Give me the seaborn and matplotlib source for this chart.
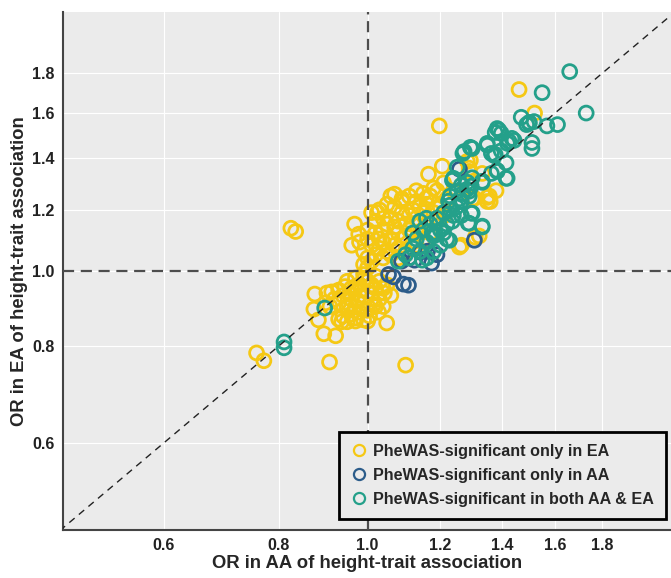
import pandas as pd
import seaborn as sns
import matplotlib.pyplot as plt
from matplotlib.lines import Line2D
from matplotlib.ticker import NullLocator

# OR in AA (x) and OR in EA (y)
ea_only_aa = [1.462, 1.52, 1.197, 1.206, 1.165, 1.294, 1.29, 1.35, 1.36, 1.30, 1.259, 1.31, 1.19,
              1.07, 1.09, 1.025, 0.968, 0.961, 0.978, 0.825, 0.835, 0.757, 0.771, 0.909, 1.10,
              0.896, 0.923, 0.876, 0.903, 0.914, 0.884, 0.93, 0.937, 0.874, 0.97, 1.0, 1.049,
              1.028, 1.043, 1.284, 1.29, 1.333, 1.307, 1.357, 1.38, 1.35, 1.159, 1.212, 1.265,
              1.323, 1.189,
              0.95, 0.97, 0.99, 0.96, 0.98, 1.0, 0.94, 0.96, 0.98, 1.0, 1.02, 0.95, 0.97, 0.99,
              1.01, 0.93, 0.96, 0.98, 1.0, 1.02, 0.94, 0.97, 0.99, 1.03, 1.04, 1.05, 1.03, 1.06,
              1.02, 0.97, 0.985, 0.955, 0.945, 1.01, 0.99, 0.975, 0.955, 1.015, 0.93, 0.92, 0.91,
              0.90, 0.95, 1.005, 1.04,
              1.0, 1.01, 1.02, 1.0, 0.99, 1.01, 1.03, 1.04, 1.05, 1.03, 1.0, 0.98, 1.02, 1.04,
              1.06, 1.07, 1.05, 1.07, 1.08, 1.09, 1.06, 1.08, 1.10, 1.11, 1.09, 1.11, 1.12, 1.13,
              1.14, 1.15, 1.13, 1.16, 1.17, 1.15, 1.12, 1.10, 1.08, 1.06, 1.04, 1.02, 1.0, 0.99,
              1.01, 1.03, 1.05, 1.07, 1.09, 1.11, 1.13, 1.06, 1.04, 1.12, 1.14, 1.16, 1.18, 1.19,
              1.17, 1.15, 1.20, 1.22, 1.18, 1.21, 1.24, 1.10, 1.08, 1.13]
ea_only_ea = [1.716, 1.60, 1.54, 1.366, 1.334, 1.39, 1.345, 1.245, 1.23, 1.24, 1.074, 1.106, 1.27,
              1.257, 1.24, 1.19, 1.15, 1.08, 1.116, 1.136, 1.125, 0.784, 0.766, 0.763, 0.756,
              0.83, 0.825, 0.934, 0.937, 0.94, 0.865, 0.867, 0.86, 0.893, 0.862, 0.862, 0.857,
              0.885, 0.937, 1.386, 1.358, 1.337, 1.242, 1.25, 1.27, 1.23, 1.242, 1.18, 1.08,
              1.11, 1.206,
              0.97, 0.98, 0.99, 0.95, 0.96, 0.97, 0.93, 0.92, 0.93, 0.94, 0.95, 0.90, 0.90, 0.91,
              0.92, 0.91, 0.88, 0.885, 0.89, 0.90, 0.875, 0.87, 0.865, 0.92, 0.95, 0.96, 0.97,
              0.93, 0.985, 0.955, 0.945, 0.935, 0.955, 0.96, 0.975, 0.915, 0.905, 0.905, 0.945,
              0.92, 0.90, 0.91, 0.86, 0.875, 0.90,
              1.01, 1.03, 1.05, 1.04, 1.06, 1.08, 1.07, 1.04, 1.06, 1.10, 1.10, 1.09, 1.12, 1.13,
              1.10, 1.08, 1.15, 1.14, 1.12, 1.10, 1.17, 1.16, 1.15, 1.13, 1.19, 1.18, 1.20, 1.17,
              1.21, 1.19, 1.23, 1.22, 1.25, 1.26, 1.15, 1.11, 1.07, 1.05, 1.09, 1.16, 1.13, 1.02,
              1.19, 1.20, 1.22, 1.21, 1.23, 1.25, 1.27, 1.25, 1.17, 1.09, 1.12, 1.15, 1.19, 1.16,
              1.12, 1.10, 1.21, 1.24, 1.28, 1.30, 1.27, 1.06, 1.04, 1.08]

both_aa = [1.66, 1.549, 1.73, 1.47, 1.50, 1.49, 1.568, 1.61, 1.51, 1.51, 1.377, 1.39, 1.436, 1.42,
           1.415, 1.415, 1.384, 1.35, 1.364, 1.377, 1.294, 1.27, 1.333, 1.252, 1.24, 1.284, 1.284,
           1.30, 1.333, 1.287, 1.265, 1.225, 1.22, 1.185, 0.811, 0.811,
           1.499, 1.518, 1.384, 1.398, 1.35, 1.374, 1.398, 1.426, 1.444, 1.30, 1.274, 1.384,
           1.419, 1.364, 1.333, 1.297, 1.265, 1.237, 1.252, 1.29, 1.265, 1.29, 1.228, 1.297,
           1.333, 1.29, 1.237, 1.228, 1.159, 1.176, 1.147,
           1.10, 1.12, 1.14, 1.16, 1.18, 1.20, 1.13, 1.15, 1.17, 1.19, 1.21, 1.23, 1.08, 1.11,
           1.22, 1.25, 1.26, 1.24, 1.20, 1.18, 1.16, 1.21, 1.12, 1.14, 1.27, 1.30, 1.23, 0.898]
both_ea = [1.81, 1.70, 1.60, 1.58, 1.556, 1.546, 1.54, 1.546, 1.466, 1.44, 1.51, 1.52, 1.484, 1.462,
           1.38, 1.318, 1.345, 1.454, 1.419, 1.415, 1.445, 1.419, 1.302, 1.362, 1.318, 1.302, 1.276,
           1.188, 1.14, 1.153, 1.18, 1.231, 1.10, 1.116, 0.81, 0.796,
           1.552, 1.56, 1.528, 1.506, 1.462, 1.41, 1.43, 1.47, 1.475, 1.44, 1.427, 1.349,
           1.318, 1.337, 1.306, 1.287, 1.291, 1.31, 1.268, 1.268, 1.23, 1.249, 1.216, 1.188,
           1.143, 1.153, 1.16, 1.096, 1.17, 1.12, 1.033,
           1.05, 1.07, 1.06, 1.09, 1.11, 1.13, 1.10, 1.13, 1.15, 1.17, 1.19, 1.20, 1.03, 1.04,
           1.15, 1.21, 1.24, 1.18, 1.08, 1.06, 1.04, 1.12, 1.12, 1.16, 1.26, 1.32, 1.25, 0.896]

aa_only_aa = [1.054, 1.067, 1.094, 1.108, 1.174, 1.307, 1.259, 1.089, 1.125, 1.142, 1.162,
              1.11, 1.19]
aa_only_ea = [0.99, 0.983, 0.962, 0.959, 1.024, 1.096, 1.354, 1.03, 1.033, 1.058, 1.061,
              1.04, 1.05]

groups = ['PheWAS-significant only in EA', 'PheWAS-significant only in AA',
          'PheWAS-significant in both AA & EA']
colors = ['#F5C814', '#2C5C8A', '#24A08A']
ticks = [0.6, 0.8, 1.0, 1.2, 1.4, 1.6, 1.8]

df = pd.concat([
    pd.DataFrame({'aa': ea_only_aa, 'ea': ea_only_ea, 'group': groups[0]}),
    pd.DataFrame({'aa': aa_only_aa, 'ea': aa_only_ea, 'group': groups[1]}),
    pd.DataFrame({'aa': both_aa, 'ea': both_ea, 'group': groups[2]}),
])

sns.set_theme(style='darkgrid', rc={'axes.facecolor': '#EBEBEB', 'grid.color': 'white',
                                    'grid.linewidth': 0.8})
plt.rcParams['font.family'] = ['Liberation Sans', 'DejaVu Sans']
plt.rcParams['font.weight'] = 'bold'

fig = plt.figure(figsize=(6.71, 5.78), dpi=100)
ax = fig.add_axes([0.094, 0.083, 0.906, 0.896])

sns.scatterplot(data=df, x='aa', y='ea', hue='group', palette=dict(zip(groups, colors)),
                s=100, linewidth=2.0, legend=False, ax=ax, zorder=2)
pc = ax.collections[0]
pc.set_edgecolors(pc.get_facecolors())
pc.set_facecolors('none')

ax.set_xscale('log')
ax.set_yscale('log')
ax.set_xlim(0.466, 2.14)
ax.set_ylim(0.463, 2.16)
ax.set_xticks(ticks)
ax.set_yticks(ticks)
ax.set_xticklabels([f'{t:.1f}' for t in ticks], fontsize=11.5, fontweight='bold')
ax.set_yticklabels([f'{t:.1f}' for t in ticks], fontsize=11.5, fontweight='bold')
ax.xaxis.set_minor_locator(NullLocator())
ax.yaxis.set_minor_locator(NullLocator())
ax.tick_params(axis='both', length=3, color='#333333', labelcolor='#222222', pad=3)

ax.axvline(1.0, color='#4D4D4D', lw=1.6, ls=(0, (5, 3)), zorder=3)
ax.axhline(1.0, color='#4D4D4D', lw=1.6, ls=(0, (5, 3)), zorder=3)
ax.plot([0.3, 3.0], [0.3, 3.0], color='#222222', lw=1.0, ls=(0, (5, 4)), zorder=3)

for side in ['top', 'right']:
    ax.spines[side].set_visible(False)
for side in ['left', 'bottom']:
    ax.spines[side].set_visible(True)
    ax.spines[side].set_color('#444444')
    ax.spines[side].set_linewidth(1.5)

ax.set_xlabel('OR in AA of height-trait association', fontsize=13.3, fontweight='bold', labelpad=1)
ax.set_ylabel('OR in EA of height-trait association', fontsize=13.3, fontweight='bold', labelpad=3)

handles = [Line2D([], [], ls='none', marker='o', markersize=8, markerfacecolor='none',
                  markeredgecolor=c, markeredgewidth=1.6) for c in colors]
leg = ax.legend(handles, groups, loc='lower right', bbox_to_anchor=(0.992, 0.022),
                frameon=True, fancybox=False, framealpha=1, edgecolor='black',
                prop={'size': 11.6, 'weight': 'bold'}, handletextpad=0.35, handlelength=1.0,
                borderpad=0.75, labelspacing=0.55, borderaxespad=0)
leg.get_frame().set_linewidth(2.0)
leg.set_zorder(5)

plt.savefig('out.png', dpi=100)
